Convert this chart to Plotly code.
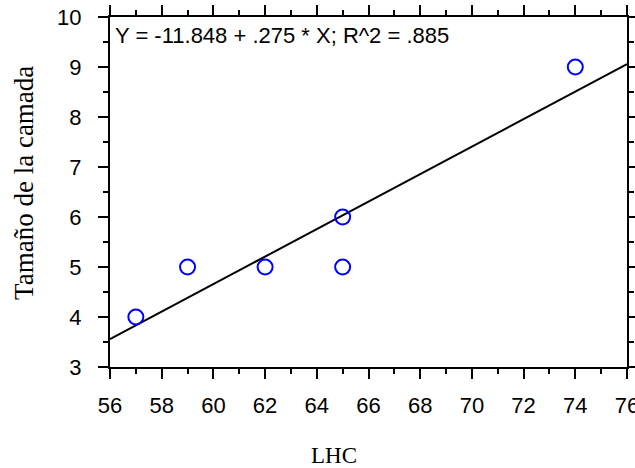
import numpy as np
import plotly.graph_objects as go

lhc = [57, 59, 62, 65, 65, 74]
litter_size = [4, 5, 5, 6, 5, 9]
x_range = [56, 76]
y_range = [3, 10]
x_title = "LHC"
y_title = "Tamaño de la camada"

slope, intercept = np.polyfit(lhc, litter_size, 1)
pred = np.polyval([slope, intercept], lhc)
ss_res = np.sum((np.array(litter_size) - pred) ** 2)
ss_tot = np.sum((np.array(litter_size) - np.mean(litter_size)) ** 2)
r2 = 1 - ss_res / ss_tot

def fmt(v):
    s = f"{v:.3f}"
    return s.replace("0.", ".", 1) if s.startswith("0.") else s

eq_text = f"Y = {intercept:.3f} + {fmt(slope)} * X; R^2 = {fmt(r2)}"

line_x = np.array(x_range, dtype=float)
line_y = intercept + slope * line_x

fig = go.Figure()
fig.add_trace(go.Scatter(x=line_x, y=line_y, mode="lines",
                         line=dict(color="black", width=2), showlegend=False,
                         hoverinfo="skip"))
fig.add_trace(go.Scatter(x=lhc, y=litter_size, mode="markers",
                         marker=dict(symbol="circle-open", size=15,
                                     color="#0000ff", line=dict(width=2, color="#0000ff")),
                         showlegend=False))

sans = "Liberation Sans, Arial, sans-serif"
serif = "Liberation Serif, Times New Roman, serif"
tickfont = dict(family=sans, size=22, color="black")

fig.update_xaxes(range=x_range, dtick=2, tick0=56, ticks="outside", ticklen=10,
                 tickwidth=2, tickcolor="black", showline=True, linewidth=2,
                 linecolor="black", mirror="ticks", showgrid=False, zeroline=False,
                 tickfont=tickfont, ticklabelstandoff=8, automargin=False,
                 ticklabeloverflow="allow",
                 minor=dict(dtick=1, ticks="outside", ticklen=5, tickwidth=2,
                            tickcolor="black", showgrid=False))
fig.update_yaxes(range=y_range, dtick=1, ticks="outside", ticklen=10,
                 tickwidth=2, tickcolor="black", showline=True, linewidth=2,
                 linecolor="black", mirror="ticks", showgrid=False, zeroline=False,
                 tickfont=tickfont, ticklabelstandoff=12, automargin=False,
                 ticklabeloverflow="allow",
                 minor=dict(dtick=0.5, ticks="outside", ticklen=5, tickwidth=2,
                            tickcolor="black", showgrid=False))

# axis titles
fig.add_annotation(x=0.433, y=0, xref="paper", yref="paper", xanchor="center",
                   yanchor="middle", yshift=-88, text=x_title, showarrow=False,
                   font=dict(family=serif, size=23, color="black"))
fig.add_annotation(x=0, y=0.526, xref="paper", yref="paper", xanchor="center",
                   yanchor="middle", xshift=-86, text=y_title, showarrow=False,
                   textangle=-90, font=dict(family=serif, size=27, color="black"))

fig.add_annotation(x=0, y=1, xref="paper", yref="paper", xanchor="left",
                   yanchor="top", text=eq_text, showarrow=False, xshift=3, yshift=-4,
                   font=dict(family=sans, size=22, color="black"))

fig.update_layout(width=635, height=468, margin=dict(l=110, r=8, t=17, b=101),
                  plot_bgcolor="white", paper_bgcolor="white")

fig.write_html("out.html", config={"displayModeBar": False},
               post_script="document.body.style.margin='0';document.body.style.overflow='hidden';")
